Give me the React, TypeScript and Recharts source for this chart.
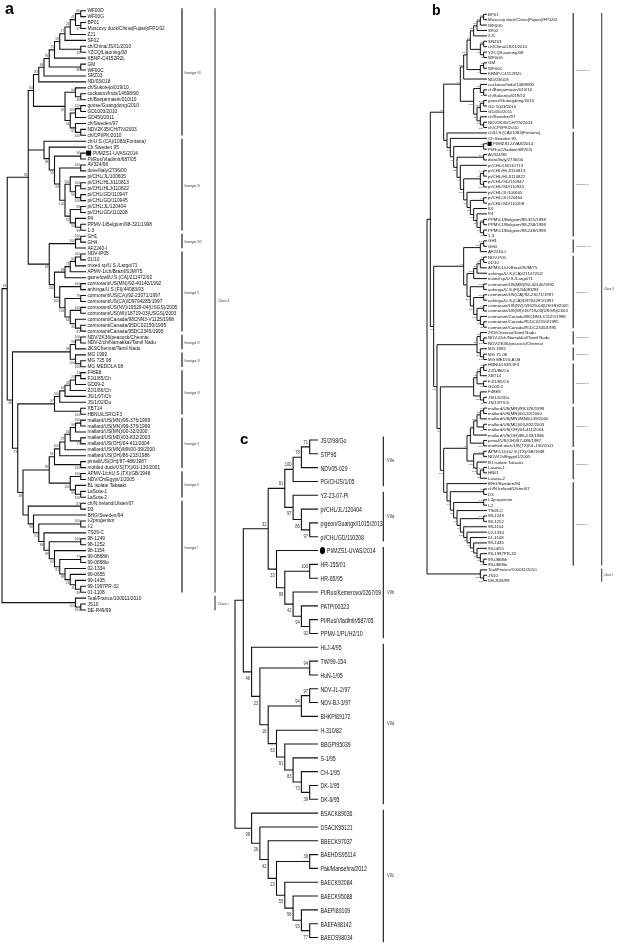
import { ComposedChart, Line, Scatter, XAxis, YAxis } from 'recharts'

// ---------- panel a ----------
const leavesA = [
  'WF00D', 'WF00G', 'BP01', 'Muscovy duck/China(Fujian)/FP1/02', 'ZJ1', 'SF02', 'ch/China/JSX1/2010',
  'YZCQ/Liaoning/08', 'KBNP-C4152R2L', 'GM', 'WF00C', 'SRZ03', 'ND/03/018', 'ch/Sukorejo/019/10',
  'cockatoo/Indo/14698/90', 'ch/Banjarmasin/010/10', 'goose/Guangdong/2010', 'GD1003/2010', 'GD450/2011',
  'ch/Sweden/97', 'NDV2K35/CH/TN/2003', 'ch/CPI/PK/2010',
  'ch/U.S.(CA)/1083(Fontana)', 'Ch Sweden 95', 'PI/MZS1-UVAS/2014', 'PI/Rus/Vladimir/687/05', 'AV324/96',
  'dove/Italy/2736/00', 'pi/CHL/JL/100605', 'pi/CHL/HLJ/110813', 'pi/CHL/HLJ/110822', 'pi/CHL/GD/110947',
  'pi/CHL/GD/110945', 'pi/CHL/JL/120404', 'pi/CHL/GD/110208', 'P4', 'PPMV-1/Belgium/98-321/1998', '1.3',
  'GH1', 'GH4', 'AF2240-I',
  'NDV-IP05', '01/10', 'mixed sp/U.S./Largo/71', 'APMV-1/ch/Brazil/SJM/75', 'gamefowl/U.S.(CA)/211472/02',
  'cormorant/US(MN)/92-40140/1992', 'anhinga/U.S.(Fl)/44083/93', 'cormorant/US(CA)/92-23071/1997',
  'cormorant/US(CA)/D9704285/1997', 'cormorant/US(NV)/19529-04(USGS)/2005', 'cormorant/US(WI)/18719-03(USGS)/2003',
  'cormorant/Canada/98CNN3-V1125/1998', 'cormorant/Canada/95DC02150/1995', 'cormorant/Canada/95DC2345/1995',
  'NDV/2K36/peacock/Chennai', 'NDV-2/ch/Namakkal/Tamil Nadu', '2K3/Chennai/Tamil Nadu',
  'MG 1992', 'MG 725 08', 'MG MEDOLA 08',
  'F48E8', 'FJ/1/85/Ch', 'GD09-2', 'ZJ/1/86/Ch', 'JS/1/97/Ch', 'JS/1/02/Du', 'XBT14', 'HBNU/LSRC/F3',
  'mallard/US(MN)/99-376/1999', 'mallard/US(MN)/99-376/1999', 'mallard/US(MN)/00-32/2000',
  'mallard/US(MD)/03-832/2003', 'mallard/US(OH)/04-411/2004', 'mallard/US(MN)/MN00-39/2000',
  'mallard/US(OH)/86-233/1986', 'pintail/US(OH)/87-486/1987', 'mottled duck/US(TX)/01-130/2001',
  'APMV-1/chU.S.(TX)/GB/1948', 'NDV/Ch/Egypt/1/2005', 'B1 isolate Takaaki', 'LaSota-1', 'LaSota-2',
  'ch/N.Ireland/Ulster/67', 'D3', 'BHG/Sweden/94', 'I-2progenitor', 'I-2', 'TS09-C', '98-1249', '98-1252',
  '98-1154', '99-0868ih', '99-0868lo', '02-1334', '99-0655', '99-1435', '99-1997PR-32', '01-1108',
  'Teal/France/100011/2010', 'JS10', 'DE-R49/99',
]
const genotypesA: [string, number, number][] = [
  ['Genotype VII', 0, 21], ['Genotype VI', 22, 37], ['Genotype VIII', 38, 40], ['Genotype V', 41, 54],
  ['Genotype IV', 55, 57], ['Genotype XI', 58, 60], ['Genotype IX', 61, 68], ['Genotype X', 69, 77],
  ['Genotype II', 78, 82], ['Genotype I', 83, 98],
]
const classesA: [string, number, number][] = [['Class II', 0, 98], ['Class I', 99, 101]]

// topologies: leaves by index, bootstrap value after ')'
const a_vii_top = '(((((((((0,1)66,(2,3)97)40,4)24,5)27,(6,7)33)59,8)75,(9,10)98)93,11)99,12)83'
const a_vii_low = '((13,(14,15)46)64,(((16,17)100,18)100,(19,(20,21)100)65)94)95'
const a_vi = '(22,(23,((24,25)94,((26,27)100,((28,((29,30)100,(31,32)100)98)100,((33,34)89,(35,(36,37)99)94)92)100)84)59)86)'
const a_viii = '((38,39)100,40)100'
const a_v = '(((((41,42)100,43)94,44)75,45)99,((46,47)100,((48,49)79,((50,51)100,(52,(53,54)81)40)64)100)100)100'
const a_iv = '((55,56)100,57)99'
const a_xi = '(58,(59,60)100)100'
const a_ix = '((((((61,62)13,63)24,64)43,65)40,66)100,(67,68)100)97'
const a_x = '((((((69,70)100,71)96,(72,73)77)56,74)87,75)100,(76,77)100)81'
const a_ii = '((78,79)100,(80,(81,82)100)99)100'
const a_i = '((83,84)87,(85,((86,87)100,(88,((89,90)100,(91,((92,93)77,(94,(95,(96,(97,98)99)11)24)98)81)63)99)99)91)98)'
const a_classI = '(99,(100,101)100)100'
const treeA = `((((${a_vii_top},${a_vii_low})84,${a_vi},(${a_viii},${a_v})63)81,((${a_iv},${a_xi})94,(${a_ix},((${a_x},${a_ii})89,${a_i})98)73)46)92,${a_classI})`

// ---------- panel b ----------
const leavesB = [
  'BP01', 'Muscovy duck/China(Fujian)/FP1/02', 'WF00D', 'SF02', 'ZJ1', 'SRZ03', 'ch/China/JSX1/2010',
  'YZCQ/Liaoning/08', 'WF00G', 'GM', 'WF00C', 'KBNP-C4152R2L', 'ND/03/018', 'cockatoo/Indo/14698/90',
  'ch/Banjarmasin/010/10', 'ch/Sukorejo/019/10', 'goose/Guangdong/2010', 'GD 1003/2010', 'GD450/2011',
  'ch/Sweden/97', 'NDV2K35/CH/TN/2003', 'ch/CPI/PK/2010',
  'ch/U.S.(CA)/1083(Fontana)', 'Ch Sweden 95', 'PI/MZS1-UVAS/2014', 'PI/Rus/Vladimir/687/05', 'AV324/96',
  'dove/Italy/2736/00', 'pi/CHL/LN/110713', 'pi/CHL/HLJ/110813', 'pi/CHL/HLJ/110822', 'pi/CHL/GD/110947',
  'pi/CHL/GD/110945', 'pi/CHL/JL/100605', 'pi/CHL/JL/120404', 'pi/CHL/GD/110208', 'II4', 'P4',
  'PPMV-1/Belgium/98-321/1998', 'PPMV-1/Belgium/98-238/1998', 'PPMV-1/Belgium/98-248/1998', '1.3',
  'GH1', 'GH4', 'AF2240-I',
  'NDV-P05', '01/10', 'APMV-1/ch/Brazil/SJM/75', 'anhinga/U.S.(CA)/211472/02', 'mixed sp/U.S./Largo/71',
  'cormorant/US(MN)/92-40140/1992', 'anhinga/U.S.(Fl)/44083/93', 'cormorant/US(CA)/92-23071/1997',
  'anhinga/U.S.(CA)/D9704285/1997', 'cormorant/US(NV)/19529-04(USGS)/2005', 'cormorant/US(WI)/18719-03(USGS)/2003',
  'cormorant/Canada/98CNN3-V1125/1998', 'cormorant/Canada/95DC02150/1995', 'cormorant/Canada/95DC2345/1995',
  '2K3/Chennai/Tamil Nadu', 'NDV-2/ch/Namakkal/Tamil Nadu', 'NDV/2K36/peacock/Chennai',
  'MG 1992', 'MG 75 08', 'MG MEDOLA 08',
  'HBNU/LSRC/F3', 'ZJ/1/86/Ch', 'XBT14', 'FJ/1/85/Ch', 'GD09-2', 'F48E8', 'JS/1/02/Du', 'JS/1/97/Ch',
  'mallard/US(MN)/99-376/1999', 'mallard/US(MN)/00-32/2000', 'mallard/US(MN)/MN00-39/2000',
  'mallard/US(MD)/03-832/2003', 'mallard/US(OH)/04-411/2004', 'mallard/US(OH)/86-233/1986',
  'pintail/US(OH)/87-486/1987', 'mottled duck/US(TX)/01-130/2001',
  'APMV-1/chU.S.(TX)/GB/1948', 'NDV/Ch/Egypt/1/2005', 'B1 isolate Takaaki', 'Lasota-1', 'HB01', 'Lasota-2',
  'BHG/Sweden/94', 'ch/N.Ireland/Ulster/67', 'D3', 'I-2progenitor', 'I-2', 'TS09-C', '98-1249', '98-1252',
  '98-1154', '02-1334', '01-1108', '99-1435', '99-0655', '99-1997PR-32', '99-0868ih', '99-0868lo',
  'Teal/France/100011/2010', 'JS10', 'DE-R49/99',
]
const genotypesB: [string, number, number][] = [
  ['Genotype VII', 0, 21], ['Genotype VI', 22, 41], ['Genotype VIII', 42, 44], ['Genotype V', 45, 58],
  ['Genotype IV', 59, 61], ['Genotype XI', 62, 64], ['Genotype IX', 65, 72], ['Genotype X', 73, 80],
  ['Genotype II', 81, 86], ['Genotype I', 87, 102],
]
const classesB: [string, number, number][] = [['Class II', 0, 102], ['Class I', 103, 105]]

const b_vii_top = '(((((((0,1)93,2)86,3)54,4)25,((5,6)33,(7,8)47)11)63,((9,10)46,11)44)100,12)100'
const b_vii_low = '((13,(14,15)98)66,(((16,17)100,18)100,(19,(20,21)100)80)42)100'
const b_vi = '(22,(23,((24,25)43,((26,27)100,(28,(((29,30)100,(31,32)100)41,(33,((34,35)97,(36,(37,((38,39)88,(40,41)97)66)45)51)81)93)100)99)82)61)70)'
const b_viii = '((42,43)100,44)100'
const b_v = '(((((45,46)61,47)46,48)71,49)100,((50,51)100,((52,53)100,((54,55)74,(56,(57,58)55)66)100)100)100)'
const b_iv = '(59,(60,61)100)87'
const b_xi = '(62,(63,64)100)100'
const b_ix = '((((65,66)62,67)33,(68,69)24)41,(70,(71,72)72)100)'
const b_x = '(((((73,74)79,75)38,(76,77)75)100,78)96,(79,80)100)'
const b_ii = '((81,82)100,(83,((84,85)100,86)73)100)100'
const b_i = '(87,((88,89)88,((90,91)100,(92,((93,94)100,(95,(96,(97,(98,(99,(100,(101,102)93)96)71)63)98)71)100)99)99)95)99)'
const b_classI = '(103,(104,105)100)100'
const treeB = `((((${b_vii_top},${b_vii_low})99,${b_vi})96,((${b_viii},${b_v})71,((${b_iv},${b_xi})87,(${b_ix},((${b_x},${b_ii})96,${b_i})100)99)100)84),${b_classI})`

// ---------- panel c ----------
const leavesC = [
  'JS/2/98/Go', 'STP96', 'NDV05-029', 'PG/CHJS/1/05', 'YZ-23-07-Pi', 'pi/CHL/JL/120404',
  'pigeon/Guangxi/1015/2013', 'pi/CHL/GD/110208', 'PI/MZS1-UVAS/2014', 'HR-155/01', 'HR-65/95',
  'PI/Rus/Kemerovo/0267/09', 'PATPI00323', 'PI/Rus/Vladimir/687/05', 'PPMV-1/PL/H2/10', 'HLJ-4/95',
  'TW/99-154', 'HuN-1/95', 'NDV-JL-2/97', 'NDV-BJ-3/97', 'BHKPI89172', 'H-310/82', 'BBGPI95039', 'S-1/95',
  'CH-1/95', 'DK-1/95', 'DK-6/95', 'BSACK89036', 'DSACK95121', 'BBECK97037', 'BAEHDS95114',
  'Pak/Mansehra/2012', 'BAECK92084', 'BAECK95088', 'BAEPI89109', 'BAEFA98142', 'BAEOS98034',
]
const subgenotypesC: [string, number, number][] = [
  ['VIIe', 0, 3], ['VIIa', 4, 7], ['VIIb', 8, 14], ['VIId', 15, 26], ['VIIc', 27, 36],
]
const c_viie = '(((0,1)71,2)78,3)100'
const c_viia = '(4,(5,(6,7)97)86)97'
const c_viib = '(8,((9,10)100,(11,(12,(13,14)92)94)42)99)33'
const c_viid = '(15,((16,17)94,(((18,19)97,20)94,(21,(22,(23,(24,(25,26)39)73)83)91)63)18)23)46'
const c_viic = '(27,(28,(29,((30,31)39,(32,(33,(34,(35,36)77)93)58)55)23)42)28)98'
const treeC = `((((${c_viie},${c_viia})91,${c_viib})32,${c_viid}),${c_viic})`

const highlighted = 'PI/MZS1-UVAS/2014'

const FONT = 'Liberation Sans, Arial, Helvetica, sans-serif'

type TNode = { leaf: number; kids: TNode[]; label: string; h: number; row: number; top: boolean }

function parseNewick(s: string): TNode {
  let i = 0
  const digits = () => {
    let t = ''
    while (i < s.length && s[i] >= '0' && s[i] <= '9') t += s[i++]
    return t
  }
  const read = (): TNode => {
    if (s[i] === '(') {
      i++
      const kids = [read()]
      while (s[i] === ',') {
        i++
        kids.push(read())
      }
      i++
      return { leaf: -1, kids, label: digits(), h: 0, row: 0, top: false }
    }
    return { leaf: Number(digits()), kids: [], label: '', h: 0, row: 0, top: false }
  }
  const root = read()
  // cladogram: x from node height, y halfway between first and last child
  const place = (t: TNode) => {
    if (!t.kids.length) {
      t.row = t.leaf
      return
    }
    t.kids.forEach(place)
    t.kids.forEach((k, j) => (k.top = j === 0))
    t.h = Math.max(...t.kids.map((k) => k.h)) + 1
    t.row = (t.kids[0].row + t.kids[t.kids.length - 1].row) / 2
  }
  place(root)
  return root
}

interface Geo {
  left: number
  top: number
  width: number
  height: number
  rootX: number
  leafX: number
  firstY: number
  lastY: number
}

interface Look {
  pad: number
  lw: number
  leafFont: number
  leafGap: number
  bsFont: number
  squeeze: number
  mark: 'square' | 'dot'
  markSize: number
  markCenter: number
  markShift: number
}

interface Column {
  items: [string, number, number][]
  lineX: number
  textX: number
  font: number
  lw: number
  color: string
  padTop: number
  padBottom: number
}

function Txt({ x, y, text, size, squeeze, anchor = 'start', fill = '#111', central = true }: any) {
  return (
    <text
      transform={`translate(${x},${y}) scale(${squeeze},1)`}
      fontSize={size}
      fontFamily={FONT}
      fill={fill}
      textAnchor={anchor}
      dominantBaseline={central ? 'central' : 'auto'}
    >
      {text}
    </text>
  )
}

function TreePanel({ leaves, newick, geo, look, columns }: { leaves: string[]; newick: string; geo: Geo; look: Look; columns: Column[] }) {
  const root = parseNewick(newick)
  const n = leaves.length
  const H = root.h
  const ppu = (geo.leafX - geo.rootX) / H
  const rowPx = (geo.lastY - geo.firstY) / (n - 1)
  const rightPx = geo.left + geo.width - 1
  const xMax = (rightPx - geo.leafX) / ppu
  const toX = (px: number) => (px - geo.leafX) / ppu
  const margin = {
    left: geo.rootX - geo.left,
    right: 1,
    top: geo.firstY - look.pad * rowPx - geo.top,
    bottom: geo.top + geo.height - (geo.lastY + look.pad * rowPx),
  }

  const edges: { x: number; y: number | null }[] = []
  const support: { x: number; y: number; label: string; top: boolean }[] = []
  const walk = (t: TNode) => {
    if (!t.kids.length) return
    const a = t.kids[0]
    const b = t.kids[t.kids.length - 1]
    edges.push({ x: -a.h, y: a.row }, { x: -t.h, y: a.row }, { x: -t.h, y: b.row }, { x: -b.h, y: b.row }, { x: -b.h, y: null })
    t.kids.slice(1, -1).forEach((k) => edges.push({ x: -k.h, y: k.row }, { x: -t.h, y: k.row }, { x: -t.h, y: null }))
    if (t.label && t !== root) support.push({ x: -t.h, y: t.row, label: t.label, top: t.top })
    t.kids.forEach(walk)
  }
  walk(root)

  const leafPts = leaves.map((name, i) => ({ x: 0, y: i, name }))
  const markPts = leafPts.filter((p) => p.name === highlighted)

  return (
    <div style={{ position: 'absolute', left: geo.left, top: geo.top }}>
      <ComposedChart width={geo.width} height={geo.height} margin={margin}>
        <XAxis type="number" dataKey="x" domain={[-H, xMax]} hide />
        <YAxis type="number" dataKey="y" domain={[-look.pad, n - 1 + look.pad]} reversed hide />
        <Line data={edges} dataKey="y" type="linear" stroke="#111" strokeWidth={look.lw} dot={false} activeDot={false} isAnimationActive={false} />
        {columns.map((c, k) => (
          <Line
            key={'col' + k}
            data={c.items.flatMap(([, a, b]) => [
              { x: toX(c.lineX), y: a - c.padTop },
              { x: toX(c.lineX), y: b + c.padBottom },
              { x: toX(c.lineX), y: null },
            ])}
            dataKey="y"
            type="linear"
            stroke={c.color}
            strokeWidth={c.lw}
            dot={false}
            activeDot={false}
            isAnimationActive={false}
          />
        ))}
        {columns.map((c, k) => (
          <Scatter
            key={'lab' + k}
            data={c.items.map(([label, a, b]) => ({ x: toX(c.textX), y: (a + b) / 2, label }))}
            isAnimationActive={false}
            shape={(p: any) => <Txt x={p.cx} y={p.cy} text={p.payload.label} size={c.font} squeeze={look.squeeze} fill="#333" />}
          />
        ))}
        <Scatter
          data={support}
          isAnimationActive={false}
          shape={(p: any) => (
            <Txt
              x={p.cx - look.bsFont * 0.3}
              y={p.payload.top ? p.cy - look.bsFont * 0.55 : p.cy + look.bsFont * 1.45}
              text={p.payload.label}
              size={look.bsFont}
              squeeze={look.squeeze}
              anchor="end"
              fill="#333"
              central={false}
            />
          )}
        />
        <Scatter
          data={leafPts}
          isAnimationActive={false}
          shape={(p: any) => (
            <Txt
              x={p.cx + look.leafGap + (p.payload.name === highlighted ? look.markShift : 0)}
              y={p.cy}
              text={p.payload.name}
              size={look.leafFont}
              squeeze={look.squeeze}
            />
          )}
        />
        <Scatter
          data={markPts}
          isAnimationActive={false}
          shape={(p: any) =>
            look.mark === 'square' ? (
              <rect x={p.cx + look.markCenter - look.markSize / 2} y={p.cy - look.markSize / 2} width={look.markSize} height={look.markSize} fill="#000" />
            ) : (
              <ellipse cx={p.cx + look.markCenter} cy={p.cy} rx={look.markSize * 0.72} ry={look.markSize} fill="#000" />
            )
          }
        />
      </ComposedChart>
    </div>
  )
}

const letter = (left: number, top: number, size: number): any => ({
  position: 'absolute',
  left,
  top,
  fontFamily: FONT,
  fontWeight: 700,
  fontSize: size,
  lineHeight: 1,
  color: '#000',
})

export default function App() {
  return (
    <div
      style={{
        position: 'absolute',
        left: 0,
        top: 0,
        width: 617,
        height: 945,
        overflow: 'hidden',
        background: '#fff',
        filter: 'grayscale(1)',
      }}
    >
      <div style={letter(5, 0.5, 16)}>a</div>
      <div style={letter(432, 3, 14)}>b</div>
      <div style={letter(240, 431, 15)}>c</div>
      <TreePanel
        leaves={leavesA}
        newick={treeA}
        geo={{ left: 0, top: 0, width: 236, height: 622, rootX: 2, leafX: 86, firstY: 10.7, lastY: 610 }}
        look={{ pad: 1.5, lw: 1.1, leafFont: 4.8, leafGap: 1.4, bsFont: 3, squeeze: 1, mark: 'square', markSize: 5, markCenter: 2.7, markShift: 5.6 }}
        columns={[
          { items: genotypesA, lineX: 182, textX: 184.3, font: 2.8, lw: 1.6, color: '#555', padTop: 0.4, padBottom: 0.05 },
          { items: classesA, lineX: 215, textX: 218, font: 3.4, lw: 1.2, color: '#444', padTop: 0.4, padBottom: 0.05 },
        ]}
      />
      <TreePanel
        leaves={leavesB}
        newick={treeB}
        geo={{ left: 424, top: 0, width: 193, height: 592, rootX: 427, leafX: 487, firstY: 14.3, lastY: 580.7 }}
        look={{ pad: 1.5, lw: 1.0, leafFont: 4.3, leafGap: 1.1, bsFont: 2.5, squeeze: 1, mark: 'square', markSize: 4.2, markCenter: 2.6, markShift: 4.9 }}
        columns={[
          { items: genotypesB, lineX: 573.3, textX: 575.8, font: 2.4, lw: 1.5, color: '#555', padTop: 0.25, padBottom: 0.2 },
          { items: classesB, lineX: 601.7, textX: 604, font: 2.9, lw: 1.1, color: '#444', padTop: 0.25, padBottom: 0.2 },
        ]}
      />
      <TreePanel
        leaves={leavesC}
        newick={treeC}
        geo={{ left: 226, top: 428, width: 174, height: 517, rootX: 235, leafX: 318, firstY: 440, lastY: 937.5 }}
        look={{ pad: 0.5, lw: 1.1, leafFont: 7.2, leafGap: 2.5, bsFont: 5.6, squeeze: 0.72, mark: 'dot', markSize: 3.6, markCenter: 4.5, markShift: 6.5 }}
        columns={[{ items: subgenotypesC, lineX: 383.3, textX: 387, font: 5.6, lw: 1.1, color: '#111', padTop: 0.25, padBottom: 0.35 }]}
      />
    </div>
  )
}
